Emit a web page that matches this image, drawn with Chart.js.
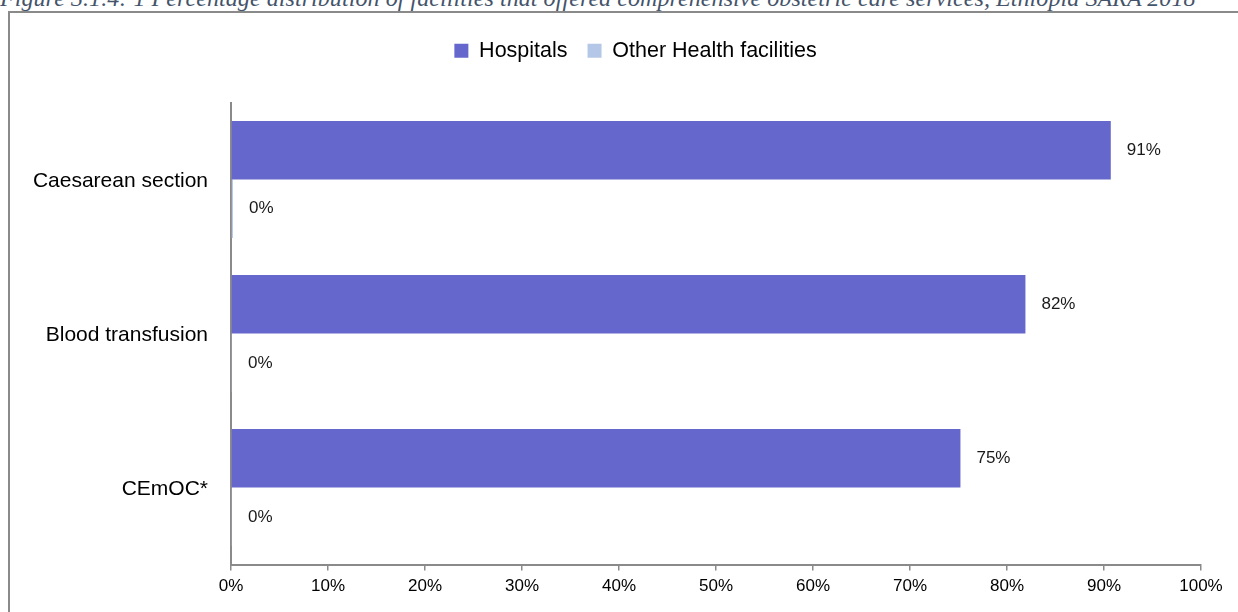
<!DOCTYPE html>
<html>
<head>
<meta charset="utf-8">
<script src="https://cdn.jsdelivr.net/npm/chart.js@4/dist/chart.umd.min.js"></script>
<style>
    html, body { margin: 0; padding: 0; background: #fff; overflow: hidden; }
    #title {
        position: absolute; left: 0; top: -14px; white-space: nowrap;
        font-family: "Liberation Serif", "DejaVu Serif", serif; font-style: italic;
        font-size: 24px; line-height: 24px; color: #44546a; letter-spacing: 0.07px;
    }
    #frame {
        position: absolute; left: 8px; top: 11px; width: 1260px; height: 640px;
        border-left: 2px solid #8a8a8a; border-top: 2px solid #8a8a8a;
    }
    #wrap { position: absolute; left: 0; top: 0; width: 1238px; height: 612px; }
</style>
</head>
<body>
<div id="title">Figure 3.1.4: 1 Percentage distribution of facilities that offered comprehensive obstetric care services, Ethiopia SARA 2018</div>
<div id="frame"></div>
<div id="wrap"><canvas id="chart" width="1238" height="612"></canvas></div>
<script>
// values (percent)
var categories = ['Caesarean section', 'Blood transfusion', 'CEmOC*'];
var hospitals = [90.7, 81.9, 75.2];
var otherFacilities = [0.2, 0.1, 0.1];
var xTicks = [0, 10, 20, 30, 40, 50, 60, 70, 80, 90, 100];

var FONT = '"Liberation Sans", Arial, sans-serif';
var AXIS_GREY = '#8a8a8a';

// draws the "91%" style labels just past the end of each bar
var valueLabels = {
    id: 'valueLabels',
    afterDatasetsDraw: function (chart) {
        var ctx = chart.ctx;
        ctx.save();
        ctx.font = '17px ' + FONT;
        ctx.fillStyle = '#1a1a1a';
        ctx.textAlign = 'left';
        ctx.textBaseline = 'middle';
        chart.data.datasets.forEach(function (ds, i) {
            chart.getDatasetMeta(i).data.forEach(function (bar, j) {
                ctx.fillText(Math.round(ds.data[j]) + '%', bar.x + 16, bar.y);
            });
        });
        ctx.restore();
    }
};

// extra room under the legend, and legend centred a bit further right
var legendGap = {
    id: 'legendGap',
    beforeInit: function (chart) {
        var fit = chart.legend.fit;
        chart.legend.fit = function () {
            fit.bind(chart.legend)();
            this.height += 31;
        };
    },
    afterLayout: function (chart) {
        chart.legend.left += 70;
    }
};

new Chart(document.getElementById('chart'), {
    type: 'bar',
    data: {
        labels: categories,
        datasets: [
            { label: 'Hospitals', data: hospitals, backgroundColor: '#6667cc' },
            { label: 'Other Health facilities', data: otherFacilities, backgroundColor: '#b4c7e7' }
        ]
    },
    options: {
        indexAxis: 'y',
        responsive: false,
        animation: false,
        categoryPercentage: 0.76,
        barPercentage: 1,
        layout: { padding: { top: 20, right: 37, bottom: 9, left: 0 } },
        plugins: {
            legend: {
                position: 'top',
                labels: {
                    boxWidth: 14, boxHeight: 14, padding: 20,
                    color: '#000',
                    font: { family: FONT, size: 21.5 }
                }
            },
            tooltip: { enabled: false }
        },
        scales: {
            x: {
                min: 0, max: 100,
                afterBuildTicks: function (scale) {
                    scale.ticks = xTicks.map(function (v) { return { value: v }; });
                },
                border: { color: AXIS_GREY, width: 2 },
                grid: { drawOnChartArea: false, drawTicks: true, tickLength: 6, color: AXIS_GREY, lineWidth: 1.5 },
                ticks: {
                    color: '#000', padding: 6, maxRotation: 0,
                    font: { family: FONT, size: 17 },
                    callback: function (v) { return v + '%'; }
                }
            },
            y: {
                afterFit: function (scale) { scale.width = 231; },
                border: { color: AXIS_GREY, width: 2 },
                grid: { display: false },
                ticks: { color: '#000', padding: 15, labelOffset: 2, font: { family: FONT, size: 21 } }
            }
        }
    },
    plugins: [valueLabels, legendGap]
});
</script>
</body>
</html>
